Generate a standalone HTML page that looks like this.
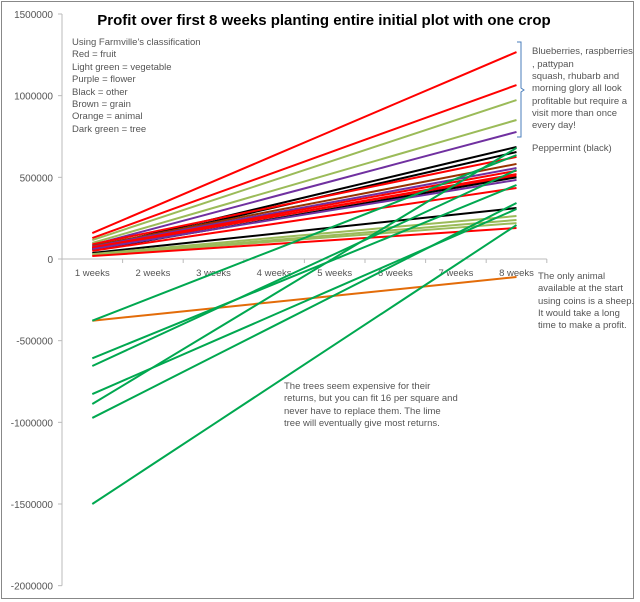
<!DOCTYPE html>
<html><head><meta charset="utf-8"><style>
html,body{margin:0;padding:0;background:#fff}
svg{display:block;font-family:"Liberation Sans",sans-serif}
</style></head><body>
<svg id="c" width="640" height="602" viewBox="0 0 640 602">
<rect x="1.5" y="1.5" width="632" height="597" fill="#fff" stroke="#888" stroke-width="1"/>
<text x="324" y="25" text-anchor="middle" font-size="15" font-weight="bold" fill="#000">Profit over first 8 weeks planting entire initial plot with one crop</text>
<g id="axes"></g>
<g id="series"></g>
<g font-size="9.5" fill="#555">
<text x="72" y="45">Using Farmville's classification</text>
<text x="72" y="57">Red = fruit</text>
<text x="72" y="70">Light green = vegetable</text>
<text x="72" y="82">Purple = flower</text>
<text x="72" y="95">Black = other</text>
<text x="72" y="107">Brown = grain</text>
<text x="72" y="119">Orange = animal</text>
<text x="72" y="132">Dark green = tree</text>
</g>
<path d="M517 42 h4 v46 l3 2 l-3 2 v45 h-4" fill="none" stroke="#4a7ebb" stroke-width="1"/>
<g font-size="9.5" fill="#555">
<text x="532" y="54">Blueberries, raspberries</text>
<text x="532" y="67">, pattypan</text>
<text x="532" y="79">squash, rhubarb and</text>
<text x="532" y="91">morning glory all look</text>
<text x="532" y="104">profitable but  require a</text>
<text x="532" y="116">visit more than once</text>
<text x="532" y="128">every day!</text>
<text x="532" y="151">Peppermint (black)</text>
</g>
<g font-size="9.5" fill="#555">
<text x="538" y="279">The only animal</text>
<text x="538" y="291">available at the start</text>
<text x="538" y="304">using coins is a sheep.</text>
<text x="538" y="316">It would take a long</text>
<text x="538" y="328">time to make a profit.</text>
</g>
<g font-size="9.5" fill="#555">
<text x="284" y="389">The trees seem expensive for their</text>
<text x="284" y="401">returns, but you can fit 16 per square and</text>
<text x="284" y="414">never have to replace them.  The lime</text>
<text x="284" y="426">tree will eventually give most returns.</text>
</g>
</svg>
<script>
const categories=["1 weeks","2 weeks","3 weeks","4 weeks","5 weeks","6 weeks","7 weeks","8 weeks"];
const yTicks=[1500000,1000000,500000,0,-500000,-1000000,-1500000,-2000000];
const seriesColors=["#ff0000","#ff0000","#9bbb59","#9bbb59","#7030a0","#000000","#000000","#ff0000","#993300","#7030a0","#ff0000","#ff0000","#ff0000","#000000","#7030a0","#ff0000","#000000","#9bbb59","#9bbb59","#9bbb59","#ff0000","#e36c09","#00a850","#00a850","#00a850","#00a850","#00a850","#00a850","#00a850"];
const startValues=[159000,128000,116000,98000,86000,67000,60000,90000,80000,75000,70000,65000,72000,55000,60000,50000,37000,30000,24000,22000,18000,-378000,-378000,-608000,-655000,-827000,-888000,-973000,-1500000];
const endValues=[1267000,1065000,973000,851000,778000,686000,655000,625000,582000,557000,540000,520000,510000,500000,484000,435000,312000,263000,239000,220000,190000,-110000,636000,453000,545000,306000,680000,343000,208000];
const NS="http://www.w3.org/2000/svg";
const X0=62,CW=60.6,Y0=259,PX=245/1500000;
function xScale(i){return X0+CW*(i+0.5);}
function yScale(v){return Y0-v*PX;}
function mk(t,a,p){const e=document.createElementNS(NS,t);for(const k in a)e.setAttribute(k,a[k]);p.appendChild(e);return e;}
const ax=document.getElementById('axes');
const yAxis=mk('line',{x1:X0,y1:yScale(1500000),x2:X0,y2:yScale(-2000000),stroke:'#bbb'},ax);


yTicks.forEach(v=>{
 const y=yScale(v);
 mk('line',{x1:X0-4,y1:y,x2:X0,y2:y,stroke:'#bbb'},ax);
 const t=mk('text',{x:53,y:y+4,'text-anchor':'end','font-size':'10',fill:'#555'},ax);
 t.textContent=v;
 
 
});
const xAxis=mk('line',{x1:X0,y1:Y0,x2:X0+CW*categories.length,y2:Y0,stroke:'#bbb'},ax);


categories.forEach((c,i)=>{
 const tx=X0+CW*(i+1);
 mk('line',{x1:tx,y1:Y0,x2:tx,y2:Y0+4,stroke:'#bbb'},ax);
 const t=mk('text',{x:xScale(i),y:Y0+17,'text-anchor':'middle','font-size':'9.5',fill:'#555'},ax);
 t.textContent=c;
 
 
});
const sg=document.getElementById('series');
const n=categories.length;
startValues.forEach((s,k)=>{
 const e=endValues[k];
 const pts=categories.map((c,i)=>xScale(i)+','+yScale(s+(e-s)*i/(n-1))).join(' ');
 const pl=mk('polyline',{points:pts,fill:'none',stroke:seriesColors[k],'stroke-width':'2'},sg);
 
 
});
</script>
</body></html>
